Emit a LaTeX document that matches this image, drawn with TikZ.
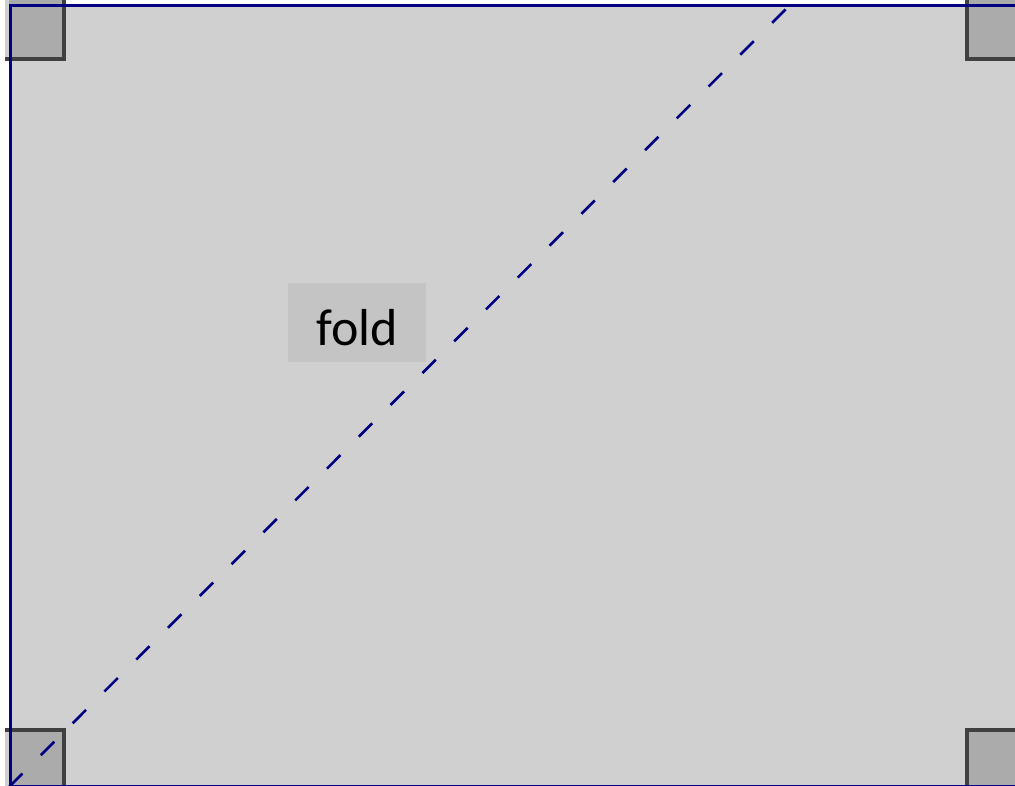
\documentclass[tikz,border=0pt]{standalone}
\usepackage{fontspec}
\setmainfont{Carlito}
\definecolor{bggray}{HTML}{D0D0D0}
\definecolor{sqfill}{HTML}{ABABAB}
\definecolor{sqdraw}{HTML}{404040}
\definecolor{labelfill}{HTML}{C4C4C4}
\definecolor{edgeblue}{HTML}{000080}
\begin{document}
\begin{tikzpicture}[x=1pt,y=-1pt,
  cornersq/.style={fill=sqfill,draw=sqdraw,line width=4pt},
  foldline/.style={draw=edgeblue,line width=2.6pt,dash pattern=on 19pt off 26pt},
  foldlabel/.style={fill=labelfill,inner sep=0pt,minimum width=138pt,minimum height=79pt,text height=45pt,text depth=0pt,font=\fontsize{52}{62}\selectfont,text=black}]
\useasboundingbox (0,0) rectangle (1015,786);
\fill[white] (0,0) rectangle (1015,786);
\begin{scope}
\clip (0,0) rectangle (1015,786);
\fill[bggray] (10,5) rectangle (1030,800);
% corner squares
\draw[cornersq] (7,-2) rectangle (64,59);
\draw[cornersq] (967,-2) rectangle (1030,59);
\draw[cornersq] (7,730) rectangle (64,800);
\draw[cornersq] (967,730) rectangle (1030,800);
\fill[bggray] (5,0) rectangle (9,57);
\fill[bggray] (5,732) rectangle (9,786);
% outline of the sheet
\draw[edgeblue,line width=2.5pt] (1030,5.5) -- (10.5,5.5) -- (10.5,800);
\draw[edgeblue,line width=1.5pt] (10.5,785.5) -- (1030,785.5);
% fold line
\coordinate (f1) at (9,787);
\coordinate (f2) at (792,3);
\draw[foldline] (f1) -- (f2);
\end{scope}
\node[foldlabel] (fold) at (357,322.5) {fold};
\end{tikzpicture}
\end{document}
